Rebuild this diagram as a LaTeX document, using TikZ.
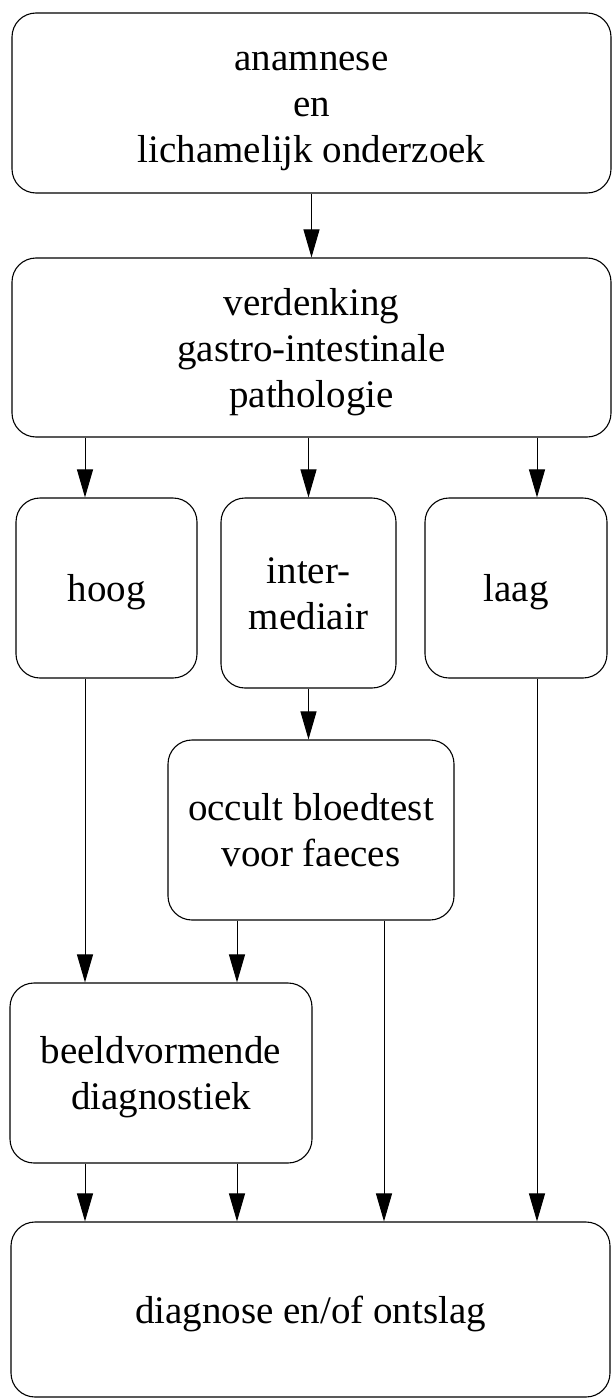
\documentclass[tikz,border=0pt]{standalone}
\usepackage{fontspec}
\setmainfont{Liberation Serif}
\usetikzlibrary{arrows.meta}
\newcommand{\ls}{\rule[-9.5pt]{0pt}{46pt}}
\begin{document}
\begin{tikzpicture}[x=1pt,y=1pt,
  box/.style={draw, line width=1.1pt, rounded corners=24pt, align=center,
    font=\fontsize{39}{46}\selectfont, inner sep=0pt},
  arr/.style={line width=1pt, -{Triangle[length=28pt,width=16pt]}}]
\useasboundingbox (0,0) rectangle (612,-1399);
\node[box, minimum width=599pt, minimum height=180pt] (b1) at (311.5,-103) {\ls anamnese\\\ls en\\\ls lichamelijk onderzoek};
\node[box, minimum width=599pt, minimum height=179pt] (b2) at (311.5,-347.5) {\ls verdenking\\\ls gastro-intestinale\\\ls pathologie};
\node[box, minimum width=181pt, minimum height=180pt] (hoog) at (106.5,-588) {\ls hoog};
\node[box, minimum width=175pt, minimum height=190pt] (inter) at (308.5,-593) {\ls inter-\\\ls mediair};
\node[box, minimum width=182pt, minimum height=180pt] (laag) at (516,-588) {\ls laag};
\node[box, minimum width=286pt, minimum height=180pt] (occult) at (311,-830) {\ls occult bloedtest\\\ls voor faeces};
\node[box, minimum width=302pt, minimum height=180pt] (beeld) at (161,-1073) {\ls beeldvormende\\\ls diagnostiek};
\node[box, minimum width=599pt, minimum height=175pt] (final) at (310.5,-1309.5) {\ls diagnose en/of ontslag};
% anchor coordinates for arrow columns
\coordinate (xa) at (85,0);
\coordinate (xb) at (237,0);
\coordinate (xc) at (384,0);
\coordinate (xd) at (537,0);
\draw[arr] (b1.south) -- (b2.north -| b1.south);
\draw[arr] (b2.south -| xa) -- (hoog.north -| xa);
\draw[arr] (b2.south -| inter.north) -- (inter.north);
\draw[arr] (b2.south -| xd) -- (laag.north -| xd);
\draw[arr] (inter.south) -- (occult.north -| inter.south);
\draw[arr] (hoog.south -| xa) -- (beeld.north -| xa);
\draw[arr] (occult.south -| xb) -- (beeld.north -| xb);
\draw[arr] (occult.south -| xc) -- (final.north -| xc);
\draw[arr] (laag.south -| xd) -- (final.north -| xd);
\draw[arr] (beeld.south -| xa) -- (final.north -| xa);
\draw[arr] (beeld.south -| xb) -- (final.north -| xb);
\end{tikzpicture}
\end{document}
